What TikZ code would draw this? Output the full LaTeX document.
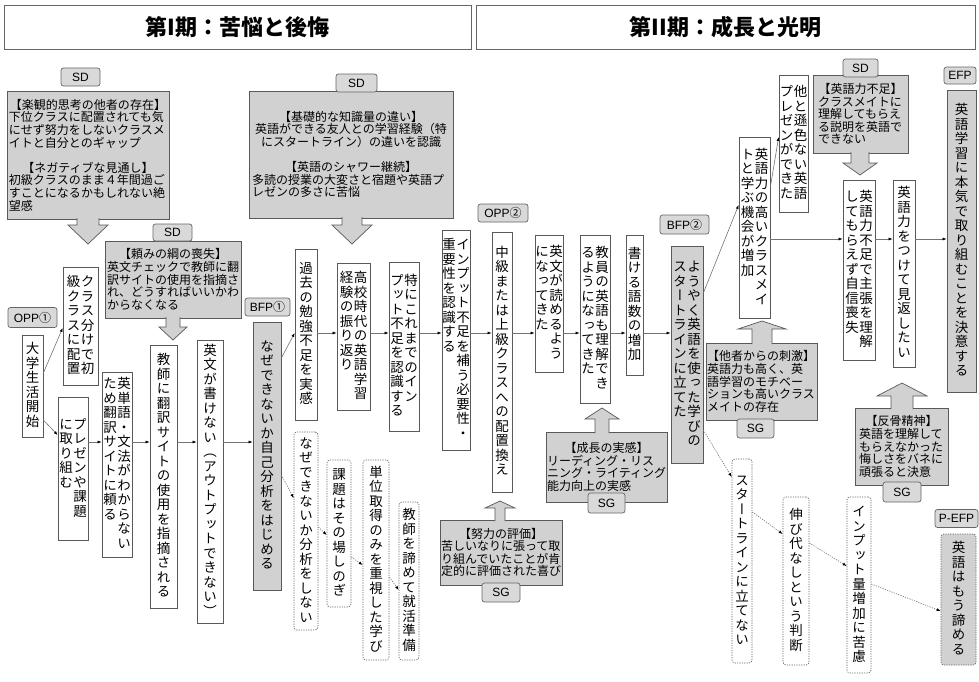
\documentclass[tikz,border=0pt]{standalone}
\usepackage{fontspec}
\setmainfont{Noto Sans CJK JP}
\newfontfamily\vertfont[RawFeature=+vert]{Noto Sans CJK JP}
\newfontfamily\cjkf{Noto Sans CJK JP}
\newfontfamily\labfont{Liberation Sans}
\usetikzlibrary{arrows.meta,calc}
\setlength{\parindent}{0pt}

\newcommand\vcchar[1]{\hbox to 14pt{\hss\raisebox{0pt}[11.4pt][3.1pt]{#1}\hss}}
\def\vcx#1{\ifx\relax#1\else\vcchar{#1}\expandafter\vcx\fi}
\newcommand\vc[1]{\vtop{\offinterlineskip\vertfont\fontsize{13.5}{14.5}\selectfont\vcx#1\relax}}
\newcommand\vt[1]{\hbox{\vc{#1}}}
\newcommand\vtt[2]{\hbox{\vc{#2}\vc{#1}}}
\newcommand\hc[1]{\noindent\hbox to\hsize{\hss#1\hss}}

\tikzset{
  ttl/.style={draw=black!60, line width=0.9pt, fill=white, inner sep=0pt,
    font=\bfseries\fontsize{22}{23}\selectfont},
  lab/.style={draw=black!60, line width=0.7pt, fill=black!15, rounded corners=2.5pt,
    inner sep=0pt, font=\labfont\fontsize{12}{12}\selectfont},
  gbox/.style={draw=black!65, line width=0.7pt, fill=black!18, inner sep=1pt,
    font=\fontsize{12}{12.6}\selectfont, align=left},
  wbox/.style={draw=black!65, line width=0.7pt, fill=white, inner sep=0pt},
  gvbox/.style={wbox, fill=black!18},
  dbox/.style={draw=black!60, line width=0.7pt, dash pattern=on 1.2pt off 1.2pt,
    rounded corners=3pt, fill=white, inner sep=0pt},
  calarrow/.style={fill=black!18, draw=black!65, line width=0.7pt, line join=miter},
  arr/.style={draw=black!55, line width=0.6pt, -{Latex[length=4pt,width=3pt,color=black]}},
  darr/.style={arr, dash pattern=on 1.2pt off 1.2pt},
}

\begin{document}
\begin{tikzpicture}[x=1pt,y=-1pt]
\useasboundingbox[fill=white] (0,0) rectangle (979,681);

% titles
\node[ttl, minimum width=467, minimum height=44] (t1) at (237.5,27) {第I期：苦悩と後悔};
\node[ttl, minimum width=499, minimum height=44] (t2) at (725.5,27) {第II期：成長と光明};

% row coordinates
\coordinate (r1) at (0,442);
\coordinate (r2) at (0,333);
\coordinate (r3) at (0,239);

% ---------- gray text boxes ----------
\node[gbox, minimum width=162, minimum height=128, text width=158pt] (sd1) at (88,155) {%
\hc{【楽観的思考の他者の存在】}\\
下位クラスに配置されても気\\
にせず努力をしないクラスメ\\
イトと自分とのギャップ\\[12.5pt]
\hc{【ネガティブな見通し】}\\
初級クラスのまま４年間過ご\\
すことになるかもしれない絶\\
望感};

\node[gbox, minimum width=136, minimum height=77, text width=132pt] (sd2) at (173,279.5) {%
\hc{【頼みの綱の喪失】}\\
英文チェックで教師に翻\\
訳サイトの使用を指摘さ\\
れ、どうすればいいかわ\\
からなくなる};

\node[gbox, minimum width=204, minimum height=127, text width=198pt] (sd3) at (351,154.5) {%
\hc{【基礎的な知識量の違い】}\\
\hc{英語ができる友人との学習経験（特}\\
\hc{にスタートライン）の違いを認識}\\[12.5pt]
\hc{【英語のシャワー継続】}\\
多読の授業の大変さと宿題や英語プ\\
レゼンの多さに苦悩};

\node[gbox, minimum width=95, minimum height=78, text width=85pt] (sd4) at (860.5,114) {%
\hc{【英語力不足】}\\
クラスメイトに\\
理解してもらえ\\
る説明を英語で\\
できない};

\node[gbox, minimum width=122, minimum height=65, text width=120pt] (sg1) at (501,552.5) {%
\hc{【努力の評価】}\\
苦しいなりに張って取\\
り組んでいたことが肯\\
定的に評価された喜び};

\node[gbox, minimum width=121, minimum height=70, text width=119pt] (sg2) at (606.5,467) {%
\hc{【成長の実感】}\\
リーディング・リス\\
ニング・ライティング\\
能力向上の実感};

\node[gbox, minimum width=111, minimum height=77, text width=109pt] (sg3) at (761.5,381.5) {%
【他者からの刺激】\\
英語力も高く、英\\
語学習のモチベー\\
ションも高いクラス\\
メイトの存在};

\node[gbox, minimum width=93, minimum height=77, text width=85pt] (sg4) at (901.5,446.5) {%
\hc{【反骨精神】}\\
英語を理解して\\
もらえなかった\\
悔しさをバネに\\
頑張ると決意};

% ---------- callout arrows ----------
\filldraw[calarrow] (77,218) -- (77,225) -- (68,225) -- (88,244) -- (108,225) -- (99,225) -- (99,218);
\filldraw[calarrow] (166,317) -- (166,327) -- (159,327) -- (173,340) -- (187,327) -- (180,327) -- (180,317);
\filldraw[calarrow] (342,217) -- (342,225) -- (332,225) -- (352,244) -- (372,225) -- (362,225) -- (362,217);
\filldraw[calarrow] (851,152) -- (851,163) -- (843,163) -- (860,175) -- (877,163) -- (869,163) -- (869,152);
\filldraw[calarrow] (495,521) -- (495,508) -- (485,508) -- (500,501) -- (515,508) -- (505,508) -- (505,521);
\filldraw[calarrow] (595,433) -- (595,419) -- (585,419) -- (602,408) -- (619,419) -- (609,419) -- (609,433);
\filldraw[calarrow] (752,344) -- (752,329) -- (738,329) -- (762,321) -- (786,329) -- (772,329) -- (772,344);
\filldraw[calarrow] (891,409) -- (891,396) -- (877,396) -- (902,383) -- (927,396) -- (913,396) -- (913,409);

% ---------- labels ----------
\node[lab, minimum width=39, minimum height=18] (sdl1) at (80.5,77) {SD};
\node[lab, minimum width=39, minimum height=17] (sdl2) at (172.5,232.5) {SD};
\node[lab, minimum width=41, minimum height=18] (sdl3) at (356.5,83) {SD};
\node[lab, minimum width=35, minimum height=18] (sdl4) at (860.5,68) {SD};
\node[lab, minimum width=49, minimum height=20] (opp1) at (32.5,317.5) {OPP{\cjkf ①}};
\node[lab, minimum width=45, minimum height=18] (bfp1) at (267.5,307) {BFP{\cjkf ①}};
\node[lab, minimum width=50, minimum height=18] (opp2) at (503,213) {OPP{\cjkf ②}};
\node[lab, minimum width=49, minimum height=19] (bfp2) at (684.5,224.5) {BFP{\cjkf ②}};
\node[lab, minimum width=32, minimum height=17] (efp) at (960,75.5) {EFP};
\node[lab, minimum width=43, minimum height=18] (pefp) at (956.5,518.5) {P-EFP};
\node[lab, minimum width=38, minimum height=19] (sgl1) at (501,592.5) {SG};
\node[lab, minimum width=37, minimum height=20] (sgl2) at (606.5,503) {SG};
\node[lab, minimum width=37, minimum height=19] (sgl3) at (755.5,428.5) {SG};
\node[lab, minimum width=38, minimum height=20] (sgl4) at (902,492) {SG};

% ---------- vertical boxes ----------
\node[wbox, minimum width=21, minimum height=102] (n1) at (32.5,386) {\vt{大学生活開始}};
\node[wbox, minimum width=35, minimum height=118] (n2) at (80.5,326) {\vtt{クラス分けで初}{級クラスに配置}};
\node[wbox, minimum width=30, minimum height=143] (n3) at (73,468.5) {\vtt{プレゼンや課題}{に取り組む}};
\node[wbox, minimum width=30, minimum height=185] (n4) at (117,464.5) {\vtt{英単語・文法がわからない}{ため翻訳サイトに頼る}};
\node[wbox, minimum width=27, minimum height=263] (n5) at (163.5,476.5) {\vt{教師に翻訳サイトの使用を指摘される}};
\node[wbox, minimum width=26, minimum height=283] (n6) at (210,481.5) {\vt{英文が書けない（アウトプットできない）}};
\node[gvbox, minimum width=28, minimum height=268] (n7) at (267,456) {\vt{なぜできないか自己分析をはじめる}};
\node[wbox, minimum width=22, minimum height=171] (n8) at (306,334.5) {\vt{過去の勉強不足を実感}};
\node[wbox, minimum width=33, minimum height=147] (n9) at (353.5,336.5) {\vtt{高校時代の英語学習}{経験の振り返り}};
\node[wbox, minimum width=30, minimum height=169] (n10) at (404,346.5) {\vtt{特にこれまでのイン}{プット不足を認識する}};
\node[wbox, minimum width=28, minimum height=220] (n11) at (456,340) {\vtt{インプット不足を補う必要性・}{重要性を認識する}};
\node[wbox, minimum width=20, minimum height=260] (n12) at (502,362) {\vt{中級または上級クラスへの配置換え}};
\node[wbox, minimum width=28, minimum height=137] (n13) at (549,303.5) {\vtt{英文が読めるよう}{になってきた}};
\node[wbox, minimum width=30, minimum height=168] (n14) at (595,319) {\vtt{教員の英語も理解でき}{るようになってきた}};
\node[wbox, minimum width=17, minimum height=140] (n15) at (634.5,305) {\vt{書ける語数の増加}};
\node[gvbox, minimum width=32, minimum height=217] (n16) at (687,354.5) {\vtt{ようやく英語を使った学びの}{スタートラインに立てた}};
\node[wbox, minimum width=31, minimum height=181] (n17) at (754.5,227.5) {\vtt{英語力の高いクラスメイ}{トと学ぶ機会が増加}};
\node[wbox, minimum width=29, minimum height=137] (n18) at (793.5,143.5) {\vtt{他と遜色ない英語}{プレゼンができた}};
\node[wbox, minimum width=32, minimum height=180] (n19) at (859,270) {\vtt{英語力不足で主張を理解}{してもらえず自信喪失}};
\node[wbox, minimum width=22, minimum height=187] (n20) at (904,273.5) {\vt{英語力をつけて見返したい}};
\node[gvbox, minimum width=29, minimum height=302] (n21) at (961.5,241) {\vt{英語学習に本気で取り組むことを決意する}};

% dotted boxes
\node[dbox, minimum width=24, minimum height=198] (d1) at (306,531) {\vt{なぜできないか分析をしない}};
\node[dbox, minimum width=24, minimum height=147] (d2) at (339,533.5) {\vt{課題はその場しのぎ}};
\node[dbox, minimum width=26, minimum height=200] (d3) at (376,560) {\vt{単位取得のみを重視した学び}};
\node[dbox, minimum width=20, minimum height=158] (d4) at (409,581) {\vt{教師を諦めて就活準備}};
\node[dbox, fill=black!18, minimum width=35, minimum height=131] (d5) at (958.5,599.5) {\vt{英語はもう諦める}};
\node[dbox, minimum width=20, minimum height=204] (d6) at (742,561) {\vt{スタートラインに立てない}};
\node[dbox, minimum width=26, minimum height=168] (d7) at (796,581) {\vt{伸び代なしという判断}};
\node[dbox, minimum width=24, minimum height=176] (d8) at (859,585) {\vt{インプット量増加に苦慮}};

% ---------- connectors ----------
\draw[arr] ([yshift=13pt]n1.east) -- ([yshift=-2pt]n2.west);
\draw[arr] ([yshift=-34pt]n1.east) -- ([yshift=33.5pt]n3.west);
\draw[arr] (n3.east|-r1) -- (n4.west|-r1);
\draw[arr] (n4.east|-r1) -- (n5.west|-r1);
\draw[arr] (n5.east|-r1) -- (n6.west|-r1);
\draw[arr] (n6.east|-r1) -- (n7.west|-r1);
\draw[arr] ([yshift=98pt]n7.east) -- ([yshift=1.5pt]n8.west);
\draw[arr] (n8.east|-r2) -- (n9.west|-r2);
\draw[arr] (n9.east|-r2) -- (n10.west|-r2);
\draw[arr] (n10.east|-r2) -- (n11.west|-r2);
\draw[arr] (n11.east|-r2) -- (n12.west|-r2);
\draw[arr] (n12.east|-r2) -- (n13.west|-r2);
\draw[arr] (n13.east|-r2) -- (n14.west|-r2);
\draw[arr] (n14.east|-r2) -- (n15.west|-r2);
\draw[arr] (n15.east|-r2) -- (n16.west|-r2);
\draw[arr] ([yshift=61.5pt]n16.east) -- ([yshift=22.5pt]n17.west);
\draw[arr] ([yshift=40.5pt]n17.east) -- ([yshift=6.5pt]n18.west);
\draw[arr] (n17.east|-r3) -- (n19.west|-r3);
\draw[arr] (n19.east|-r3) -- (n20.west|-r3);
\draw[arr] (n20.east|-r3) -- (n21.west|-r3);

\draw[darr] ([yshift=-19pt]n7.east) -- ([yshift=33pt]d1.west);
\draw[darr] ([yshift=4pt]d1.east) -- ([yshift=-1.5pt]d2.west);
\draw[darr] ([yshift=-23.5pt]d2.east) -- ([yshift=-5pt]d3.west);
\draw[darr] ([yshift=-17pt]d3.east) -- ([yshift=-9pt]d4.west);
\draw[darr] ([yshift=-75.5pt]n16.east) -- ([yshift=84pt]d6.west);
\draw[darr] ([yshift=49pt]d6.east) -- ([yshift=47pt]d7.west);
\draw[darr] ([yshift=38pt]d7.east) -- ([yshift=19pt]d8.west);
\draw[darr] ([yshift=1pt]d8.east) -- ([yshift=-11.5pt]d5.west);
\end{tikzpicture}
\end{document}
